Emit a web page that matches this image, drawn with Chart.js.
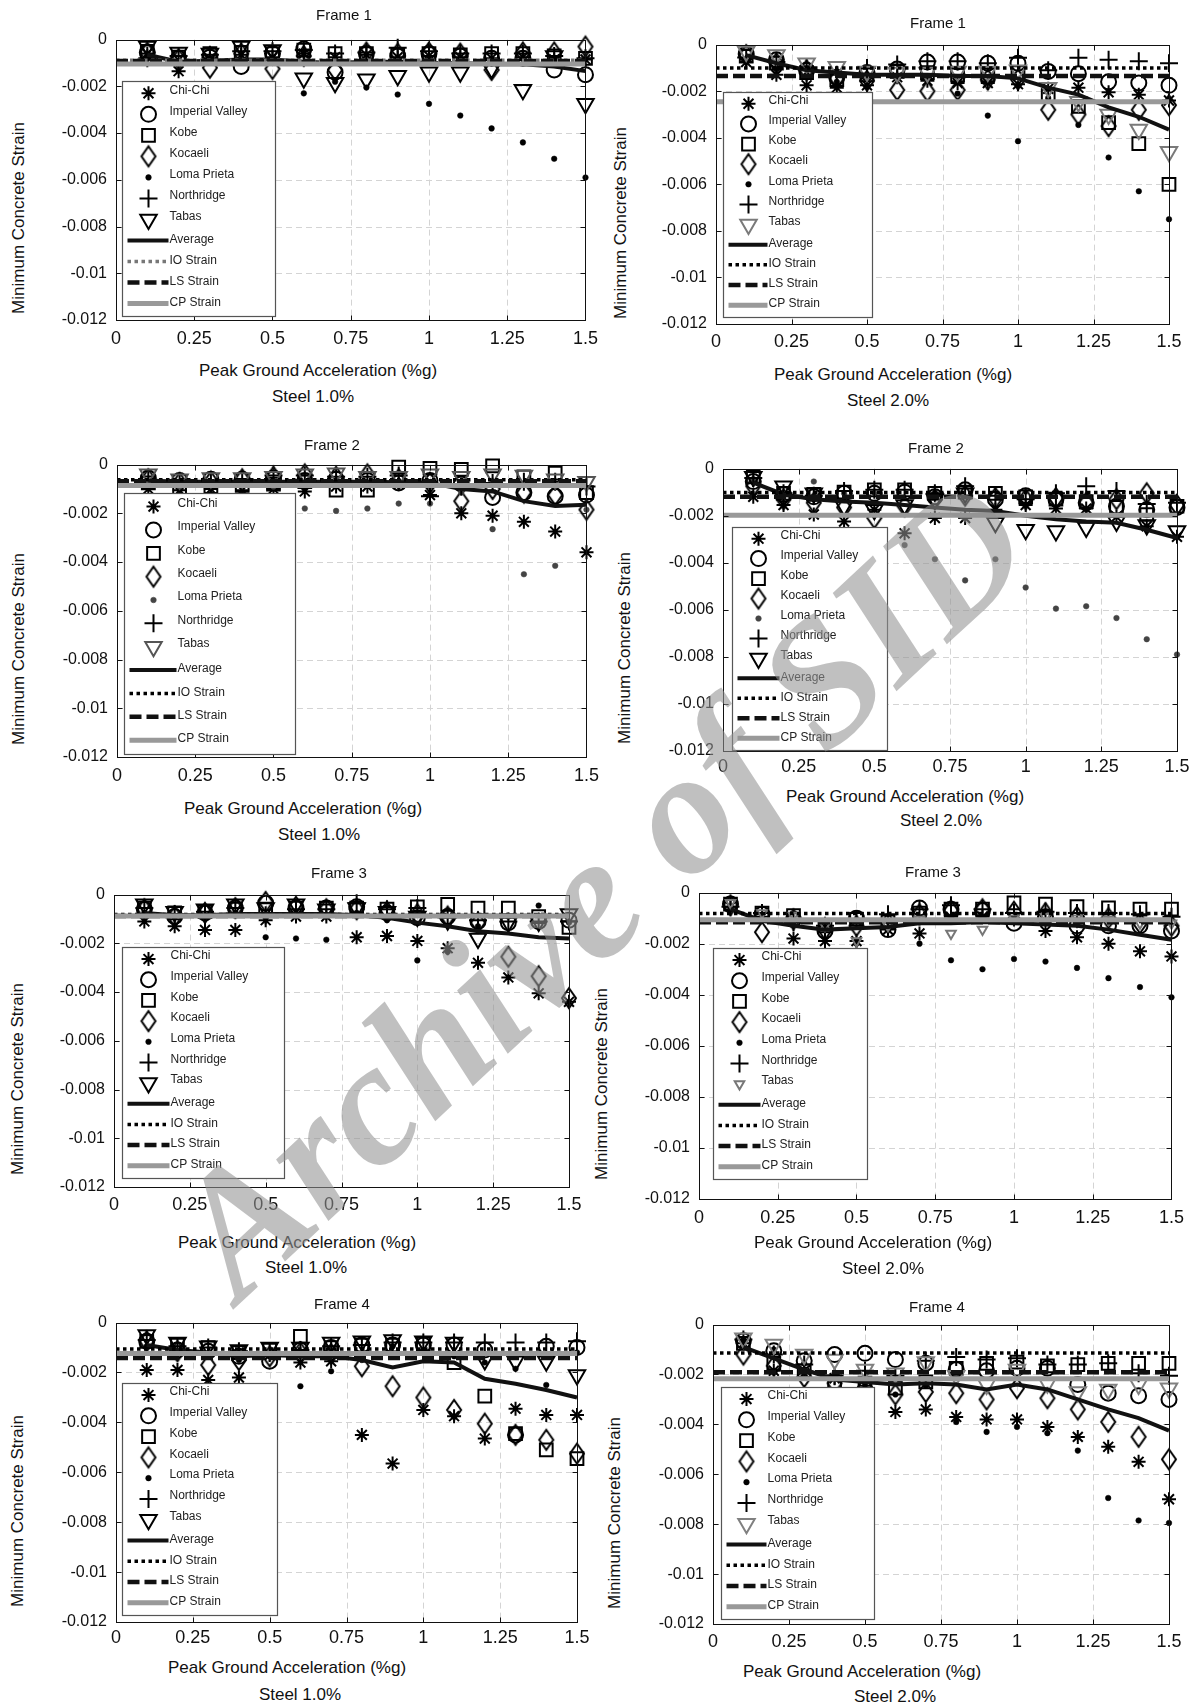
<!DOCTYPE html>
<html>
<head>
<meta charset="utf-8">
<title>Minimum Concrete Strain vs PGA</title>
<script src="https://cdn.jsdelivr.net/npm/chart.js@4.4.1/dist/chart.umd.min.js"></script>
<style>
  html, body { margin: 0; padding: 0; background: #fff; }
  body { width: 1192px; height: 1707px; position: relative; overflow: hidden;
         font-family: 'Liberation Sans', Arial, sans-serif; color: #111; }
  canvas { position: absolute; }
  .txt { position: absolute; white-space: nowrap; line-height: 1; transform: translate(-50%, -50%); }
  .ytitle { position: absolute; white-space: nowrap; line-height: 1; transform: translate(-50%, -50%) rotate(-90deg); }
  #watermark { position: absolute; left: 600px; top: 887px; white-space: nowrap; line-height: 1;
               font-family: 'Liberation Serif', 'DejaVu Serif', serif; font-style: italic; font-weight: bold;
               font-size: 176px; color: rgba(146, 146, 146, 0.58);
               transform: translate(-50%, -50%) rotate(-43deg); z-index: 5; pointer-events: none; }
</style>
</head>
<body>
<script>
// Datos comunes
const pga = [0.1, 0.2, 0.3, 0.4, 0.5, 0.6, 0.7, 0.8, 0.9, 1.0, 1.1, 1.2, 1.3, 1.4, 1.5];
const xTicks = [0, 0.25, 0.5, 0.75, 1, 1.25, 1.5];
const yTicks = [0, -0.002, -0.004, -0.006, -0.008, -0.01, -0.012];
const records = ['Chi-Chi', 'Imperial Valley', 'Kobe', 'Kocaeli', 'Loma Prieta', 'Northridge', 'Tabas'];
const lineNames = ['Average', 'IO Strain', 'LS Strain', 'CP Strain'];

// Frame 1 - Steel 1.0%
const f1s1ChiChi = [-0.6e-3, -1.35e-3, -0.8e-3, -0.65e-3, -0.75e-3, -0.6e-3, -0.75e-3, -0.65e-3, -0.75e-3, -0.7e-3, -0.75e-3, -0.8e-3, -0.75e-3, -0.85e-3, -0.85e-3];
const f1s1Imperial = [-0.55e-3, -0.8e-3, -0.75e-3, -1.15e-3, -0.6e-3, -0.4e-3, -1.4e-3, -0.6e-3, -0.7e-3, -0.6e-3, -0.7e-3, -0.8e-3, -0.8e-3, -1.3e-3, -1.5e-3];
const f1s1Kobe = [-0.5e-3, -0.75e-3, -0.6e-3, -0.55e-3, -0.6e-3, -0.45e-3, -0.6e-3, -0.6e-3, -0.65e-3, -0.6e-3, -0.65e-3, -0.6e-3, -0.6e-3, -0.7e-3, -0.8e-3];
const f1s1Kocaeli = [-0.55e-3, -0.85e-3, -1.2e-3, -0.6e-3, -1.25e-3, -0.7e-3, -1.3e-3, -0.55e-3, -0.6e-3, -0.55e-3, -0.6e-3, -1.3e-3, -0.55e-3, -0.55e-3, -0.3e-3];
const f1s1Loma = [-0.7e-3, -0.9e-3, -0.8e-3, -0.9e-3, -1.0e-3, -2.3e-3, -1.8e-3, -2.05e-3, -2.35e-3, -2.75e-3, -3.25e-3, -3.8e-3, -4.4e-3, -5.1e-3, -5.9e-3];
const f1s1Northridge = [-0.8e-3, -0.7e-3, -0.65e-3, -0.5e-3, -0.5e-3, -0.45e-3, -0.6e-3, -0.55e-3, -0.35e-3, -0.5e-3, -0.6e-3, -0.6e-3, -0.6e-3, -0.7e-3, -0.8e-3];
const f1s1Tabas = [-0.3e-3, -0.55e-3, -0.6e-3, -0.3e-3, -0.45e-3, -1.65e-3, -1.85e-3, -1.7e-3, -1.55e-3, -1.4e-3, -1.4e-3, -1.25e-3, -2.15e-3, -0.7e-3, -2.75e-3];
const f1s1Average = [-0.65e-3, -0.95e-3, -0.9e-3, -0.85e-3, -0.85e-3, -0.95e-3, -1.0e-3, -0.95e-3, -0.95e-3, -1.0e-3, -1.0e-3, -1.05e-3, -1.05e-3, -1.15e-3, -1.35e-3];
const f1s1Limits = [-0.88e-3, -0.92e-3, -1.04e-3];

// Frame 1 - Steel 2.0%
const f1s2ChiChi = [-0.75e-3, -1.3e-3, -1.75e-3, -1.85e-3, -1.75e-3, -1.4e-3, -1.55e-3, -1.65e-3, -1.65e-3, -1.7e-3, -1.9e-3, -1.85e-3, -2.05e-3, -2.15e-3, -2.4e-3];
const f1s2Imperial = [-0.4e-3, -0.65e-3, -1.1e-3, -1.4e-3, -1.2e-3, -1.05e-3, -0.75e-3, -0.75e-3, -0.8e-3, -0.8e-3, -1.15e-3, -1.25e-3, -1.6e-3, -1.65e-3, -1.75e-3];
const f1s2Kobe = [-0.5e-3, -0.8e-3, -1.2e-3, -1.5e-3, -1.3e-3, -1.15e-3, -1.2e-3, -1.3e-3, -1.3e-3, -1.2e-3, -2.2e-3, -2.65e-3, -3.35e-3, -4.25e-3, -6.0e-3];
const f1s2Kocaeli = [-0.45e-3, -0.8e-3, -1.1e-3, -1.45e-3, -1.55e-3, -1.95e-3, -2.0e-3, -1.95e-3, -1.5e-3, -1.5e-3, -2.8e-3, -3.0e-3, -3.5e-3, -2.8e-3, -2.6e-3];
const f1s2Loma = [-0.7e-3, -1.0e-3, -1.3e-3, -1.6e-3, -1.5e-3, -1.4e-3, -1.5e-3, -2.1e-3, -3.05e-3, -4.15e-3, -2.3e-3, -3.45e-3, -4.85e-3, -6.3e-3, -7.5e-3];
const f1s2Northridge = [-0.55e-3, -0.75e-3, -1.0e-3, -1.3e-3, -1.0e-3, -0.85e-3, -0.72e-3, -0.72e-3, -0.8e-3, -0.57e-3, -1.1e-3, -0.57e-3, -0.65e-3, -0.72e-3, -0.8e-3];
const f1s2Tabas = [-0.3e-3, -0.45e-3, -0.8e-3, -0.95e-3, -1.15e-3, -1.2e-3, -1.2e-3, -1.15e-3, -1.15e-3, -1.1e-3, -1.85e-3, -2.45e-3, -3.0e-3, -3.65e-3, -4.6e-3];
const f1s2Average = [-0.45e-3, -0.8e-3, -1.1e-3, -1.2e-3, -1.3e-3, -1.3e-3, -1.3e-3, -1.35e-3, -1.35e-3, -1.45e-3, -1.85e-3, -2.15e-3, -2.7e-3, -3.1e-3, -3.65e-3];
const f1s2Limits = [-1.0e-3, -1.35e-3, -2.45e-3];

// Frame 2 - Steel 1.0%
const f2s1ChiChi = [-1.0e-3, -1.05e-3, -1.0e-3, -1.05e-3, -1.0e-3, -1.1e-3, -0.9e-3, -0.9e-3, -0.8e-3, -1.25e-3, -2.0e-3, -2.1e-3, -2.35e-3, -2.75e-3, -3.6e-3];
const f2s1Imperial = [-0.55e-3, -0.65e-3, -0.6e-3, -0.6e-3, -0.55e-3, -0.65e-3, -0.6e-3, -0.65e-3, -0.75e-3, -0.65e-3, -0.8e-3, -1.35e-3, -1.15e-3, -1.3e-3, -1.25e-3];
const f2s1Kobe = [-0.75e-3, -0.95e-3, -0.9e-3, -0.85e-3, -0.8e-3, -0.7e-3, -1.05e-3, -1.05e-3, -0.1e-3, -0.15e-3, -0.2e-3, -0.05e-3, -0.5e-3, -0.35e-3, -1.15e-3];
const f2s1Kocaeli = [-0.6e-3, -0.75e-3, -0.7e-3, -0.6e-3, -0.5e-3, -0.4e-3, -0.5e-3, -0.4e-3, -0.6e-3, -0.75e-3, -1.5e-3, -1.0e-3, -1.15e-3, -1.25e-3, -1.85e-3];
const f2s1Loma = [-0.75e-3, -0.9e-3, -0.75e-3, -0.75e-3, -0.9e-3, -1.8e-3, -1.9e-3, -1.8e-3, -1.6e-3, -1.6e-3, -1.15e-3, -2.65e-3, -4.5e-3, -4.15e-3, -1.85e-3];
const f2s1Northridge = [-0.65e-3, -0.75e-3, -0.7e-3, -0.65e-3, -0.45e-3, -0.45e-3, -0.5e-3, -0.5e-3, -0.45e-3, -1.3e-3, -0.9e-3, -0.75e-3, -0.7e-3, -0.7e-3, -0.9e-3];
const f2s1Tabas = [-0.4e-3, -0.6e-3, -0.55e-3, -0.55e-3, -0.5e-3, -0.4e-3, -0.35e-3, -0.5e-3, -0.5e-3, -0.4e-3, -0.5e-3, -0.4e-3, -0.45e-3, -0.6e-3, -0.7e-3];
const f2s1Average = [-0.65e-3, -0.7e-3, -0.7e-3, -0.7e-3, -0.7e-3, -0.7e-3, -0.7e-3, -0.7e-3, -0.72e-3, -0.75e-3, -1.0e-3, -1.1e-3, -1.5e-3, -1.7e-3, -1.65e-3];
const f2s1Limits = [-0.62e-3, -0.68e-3, -0.86e-3];

// Frame 2 - Steel 2.0%
const f2s2ChiChi = [-1.2e-3, -1.55e-3, -1.95e-3, -2.25e-3, -1.75e-3, -2.75e-3, -2.1e-3, -2.1e-3, -1.75e-3, -1.55e-3, -1.7e-3, -1.7e-3, -2.05e-3, -2.45e-3, -2.9e-3];
const f2s2Imperial = [-0.55e-3, -1.1e-3, -1.2e-3, -1.05e-3, -1.05e-3, -1.0e-3, -1.2e-3, -0.9e-3, -1.3e-3, -1.15e-3, -1.3e-3, -1.45e-3, -1.6e-3, -1.75e-3, -1.65e-3];
const f2s2Kobe = [-0.35e-3, -1.05e-3, -1.1e-3, -1.0e-3, -0.9e-3, -0.9e-3, -1.05e-3, -1.0e-3, -1.05e-3, -1.2e-3, -1.3e-3, -1.4e-3, -1.65e-3, -1.95e-3, -1.6e-3];
const f2s2Kocaeli = [-0.75e-3, -1.3e-3, -1.45e-3, -1.65e-3, -2.1e-3, -1.6e-3, -1.3e-3, -1.15e-3, -1.25e-3, -1.3e-3, -1.25e-3, -1.45e-3, -1.3e-3, -1.05e-3, -1.55e-3];
const f2s2Loma = [-0.5e-3, -1.2e-3, -0.55e-3, -1.05e-3, -1.05e-3, -3.25e-3, -3.85e-3, -4.75e-3, -3.85e-3, -5.05e-3, -5.95e-3, -5.85e-3, -6.35e-3, -7.25e-3, -7.9e-3];
const f2s2Northridge = [-0.4e-3, -1.05e-3, -1.15e-3, -0.95e-3, -0.9e-3, -0.9e-3, -1.05e-3, -0.75e-3, -1.15e-3, -1.3e-3, -1.05e-3, -0.75e-3, -0.95e-3, -1.5e-3, -1.45e-3];
const f2s2Tabas = [-0.35e-3, -0.75e-3, -1.05e-3, -1.6e-3, -1.75e-3, -1.55e-3, -1.3e-3, -1.05e-3, -2.3e-3, -2.6e-3, -2.65e-3, -2.5e-3, -2.25e-3, -2.4e-3, -2.65e-3];
const f2s2Average = [-0.6e-3, -1.1e-3, -1.3e-3, -1.4e-3, -1.45e-3, -1.55e-3, -1.65e-3, -1.75e-3, -1.8e-3, -2.0e-3, -2.15e-3, -2.25e-3, -2.3e-3, -2.6e-3, -2.95e-3];
const f2s2Limits = [-1.02e-3, -1.2e-3, -1.98e-3];

// Frame 3 - Steel 1.0%
const f3s1ChiChi = [-1.1e-3, -1.3e-3, -1.45e-3, -1.45e-3, -1.05e-3, -0.9e-3, -0.9e-3, -1.75e-3, -1.7e-3, -1.9e-3, -2.2e-3, -2.8e-3, -3.4e-3, -4.05e-3, -4.4e-3];
const f3s1Imperial = [-0.6e-3, -0.9e-3, -0.75e-3, -0.55e-3, -0.35e-3, -0.55e-3, -0.55e-3, -0.5e-3, -0.75e-3, -0.95e-3, -0.9e-3, -1.1e-3, -1.15e-3, -1.1e-3, -1.05e-3];
const f3s1Kobe = [-0.55e-3, -0.75e-3, -0.7e-3, -0.6e-3, -0.6e-3, -0.55e-3, -0.55e-3, -0.55e-3, -0.6e-3, -0.5e-3, -0.4e-3, -0.55e-3, -0.55e-3, -0.9e-3, -1.35e-3];
const f3s1Kocaeli = [-0.6e-3, -0.9e-3, -0.75e-3, -0.55e-3, -0.3e-3, -0.5e-3, -0.6e-3, -0.6e-3, -0.7e-3, -0.8e-3, -0.9e-3, -1.15e-3, -2.55e-3, -3.35e-3, -4.25e-3];
const f3s1Loma = [-0.75e-3, -0.9e-3, -0.9e-3, -0.75e-3, -1.75e-3, -1.8e-3, -1.85e-3, -0.75e-3, -1.05e-3, -2.7e-3, -2.35e-3, -1.3e-3, -0.9e-3, -0.45e-3, -1.15e-3];
const f3s1Northridge = [-0.55e-3, -0.8e-3, -0.7e-3, -0.55e-3, -0.85e-3, -0.6e-3, -0.6e-3, -0.35e-3, -0.6e-3, -0.55e-3, -0.95e-3, -1.05e-3, -1.1e-3, -1.1e-3, -1.1e-3];
const f3s1Tabas = [-0.4e-3, -0.7e-3, -0.6e-3, -0.4e-3, -0.55e-3, -0.4e-3, -0.6e-3, -0.55e-3, -0.7e-3, -0.9e-3, -1.05e-3, -1.8e-3, -1.15e-3, -1.1e-3, -0.8e-3];
const f3s1Average = [-0.75e-3, -0.85e-3, -0.85e-3, -0.8e-3, -0.8e-3, -0.8e-3, -0.8e-3, -0.85e-3, -0.95e-3, -1.15e-3, -1.3e-3, -1.5e-3, -1.6e-3, -1.75e-3, -1.8e-3];
const f3s1Limits = [-0.82e-3, -0.88e-3, -0.88e-3];

// Frame 3 - Steel 2.0%
const f3s2ChiChi = [-0.55e-3, -0.95e-3, -1.8e-3, -1.9e-3, -1.9e-3, -1.45e-3, -1.6e-3, -0.95e-3, -0.95e-3, -1.05e-3, -1.5e-3, -1.75e-3, -2.0e-3, -2.3e-3, -2.5e-3];
const f3s2Imperial = [-0.45e-3, -0.85e-3, -1.05e-3, -1.5e-3, -1.0e-3, -1.45e-3, -0.6e-3, -0.65e-3, -0.7e-3, -1.2e-3, -0.95e-3, -1.3e-3, -1.3e-3, -1.3e-3, -1.5e-3];
const f3s2Kobe = [-0.45e-3, -0.8e-3, -0.9e-3, -1.3e-3, -1.05e-3, -1.15e-3, -0.8e-3, -0.65e-3, -0.65e-3, -0.4e-3, -0.45e-3, -0.55e-3, -0.6e-3, -0.65e-3, -0.65e-3];
const f3s2Kocaeli = [-0.5e-3, -1.55e-3, -1.05e-3, -1.45e-3, -1.3e-3, -1.2e-3, -0.85e-3, -0.7e-3, -0.65e-3, -0.75e-3, -0.8e-3, -0.95e-3, -1.0e-3, -1.2e-3, -1.3e-3];
const f3s2Loma = [-0.55e-3, -0.95e-3, -1.2e-3, -1.4e-3, -2.0e-3, -1.4e-3, -2.0e-3, -2.65e-3, -3.0e-3, -2.6e-3, -2.7e-3, -2.95e-3, -3.35e-3, -3.7e-3, -4.1e-3];
const f3s2Northridge = [-0.55e-3, -0.8e-3, -1.15e-3, -1.3e-3, -1.05e-3, -0.85e-3, -0.65e-3, -0.5e-3, -0.65e-3, -0.8e-3, -0.75e-3, -0.8e-3, -0.8e-3, -0.85e-3, -0.95e-3];
const f3s2Tabas = [-0.4e-3, -0.8e-3, -0.9e-3, -1.3e-3, -1.9e-3, -1.3e-3, -1.05e-3, -1.6e-3, -1.45e-3, -1.0e-3, -0.95e-3, -1.0e-3, -1.05e-3, -1.2e-3, -1.2e-3];
const f3s2Average = [-0.65e-3, -1.1e-3, -1.3e-3, -1.45e-3, -1.4e-3, -1.35e-3, -1.2e-3, -1.2e-3, -1.15e-3, -1.2e-3, -1.25e-3, -1.3e-3, -1.45e-3, -1.65e-3, -1.85e-3];
const f3s2Limits = [-0.82e-3, -1.16e-3, -1.06e-3];

// Frame 4 - Steel 1.0%
const f4s1ChiChi = [-1.9e-3, -1.9e-3, -2.3e-3, -2.2e-3, -1.3e-3, -1.6e-3, -1.55e-3, -4.5e-3, -5.65e-3, -3.5e-3, -3.75e-3, -4.65e-3, -3.45e-3, -3.7e-3, -3.7e-3];
const f4s1Imperial = [-0.75e-3, -1.1e-3, -1.15e-3, -1.35e-3, -1.55e-3, -1.1e-3, -1.0e-3, -0.9e-3, -0.9e-3, -0.9e-3, -0.9e-3, -1.1e-3, -4.5e-3, -0.95e-3, -1.0e-3];
const f4s1Kobe = [-0.75e-3, -0.9e-3, -1.0e-3, -1.2e-3, -1.1e-3, -0.55e-3, -1.0e-3, -0.9e-3, -0.9e-3, -0.85e-3, -1.6e-3, -2.95e-3, -4.45e-3, -5.1e-3, -5.45e-3];
const f4s1Kocaeli = [-0.75e-3, -1.15e-3, -1.7e-3, -1.5e-3, -1.35e-3, -1.2e-3, -1.25e-3, -1.75e-3, -2.55e-3, -3.0e-3, -3.5e-3, -4.05e-3, -4.5e-3, -4.7e-3, -5.25e-3];
const f4s1Loma = [-0.95e-3, -1.2e-3, -1.35e-3, -1.5e-3, -1.35e-3, -2.55e-3, -1.95e-3, -1.5e-3, -0.95e-3, -1.1e-3, -1.35e-3, -1.6e-3, -1.85e-3, -2.5e-3, -1.2e-3];
const f4s1Northridge = [-0.7e-3, -0.95e-3, -1.0e-3, -1.15e-3, -1.2e-3, -1.1e-3, -0.95e-3, -0.9e-3, -0.8e-3, -0.8e-3, -0.8e-3, -0.8e-3, -0.8e-3, -0.8e-3, -0.75e-3];
const f4s1Tabas = [-0.5e-3, -0.8e-3, -0.95e-3, -1.1e-3, -1.0e-3, -1.0e-3, -0.8e-3, -0.75e-3, -0.7e-3, -0.75e-3, -0.8e-3, -1.5e-3, -1.55e-3, -1.55e-3, -2.1e-3];
const f4s1Average = [-0.9e-3, -1.1e-3, -1.2e-3, -1.35e-3, -1.3e-3, -1.35e-3, -1.35e-3, -1.5e-3, -1.8e-3, -1.55e-3, -1.6e-3, -2.25e-3, -2.45e-3, -2.7e-3, -3.0e-3];
const f4s1Limits = [-1.06e-3, -1.42e-3, -1.24e-3];

// Frame 4 - Steel 2.0%
const f4s2ChiChi = [-0.75e-3, -1.85e-3, -1.95e-3, -2.15e-3, -2.45e-3, -3.5e-3, -3.4e-3, -3.7e-3, -3.8e-3, -3.8e-3, -4.1e-3, -4.5e-3, -4.9e-3, -5.5e-3, -7.0e-3];
const f4s2Imperial = [-0.65e-3, -1.05e-3, -1.45e-3, -1.2e-3, -1.15e-3, -1.4e-3, -1.55e-3, -1.8e-3, -1.85e-3, -1.75e-3, -1.75e-3, -2.4e-3, -2.75e-3, -2.85e-3, -3.0e-3];
const f4s2Kobe = [-0.75e-3, -1.55e-3, -1.85e-3, -2.3e-3, -2.35e-3, -2.55e-3, -2.3e-3, -1.75e-3, -1.55e-3, -1.5e-3, -1.65e-3, -1.6e-3, -1.55e-3, -1.55e-3, -1.55e-3];
const f4s2Kocaeli = [-1.2e-3, -1.65e-3, -2.1e-3, -2.35e-3, -2.5e-3, -2.8e-3, -2.7e-3, -2.75e-3, -3.0e-3, -2.55e-3, -2.95e-3, -3.4e-3, -3.9e-3, -4.5e-3, -5.4e-3];
const f4s2Loma = [-0.6e-3, -1.0e-3, -1.55e-3, -1.95e-3, -2.3e-3, -2.8e-3, -2.45e-3, -3.9e-3, -4.3e-3, -4.1e-3, -4.35e-3, -5.05e-3, -6.95e-3, -7.85e-3, -7.95e-3];
const f4s2Northridge = [-0.6e-3, -1.2e-3, -1.6e-3, -2.05e-3, -1.85e-3, -2.05e-3, -1.45e-3, -1.3e-3, -1.4e-3, -1.35e-3, -1.6e-3, -1.6e-3, -1.55e-3, -1.95e-3, -2.05e-3];
const f4s2Tabas = [-0.55e-3, -0.8e-3, -1.2e-3, -1.4e-3, -1.8e-3, -1.95e-3, -1.5e-3, -2.05e-3, -2.4e-3, -1.8e-3, -2.35e-3, -2.7e-3, -2.6e-3, -2.4e-3, -2.55e-3];
const f4s2Average = [-0.9e-3, -1.35e-3, -1.8e-3, -2.2e-3, -2.3e-3, -2.4e-3, -2.35e-3, -2.4e-3, -2.6e-3, -2.4e-3, -2.6e-3, -3.0e-3, -3.4e-3, -3.75e-3, -4.25e-3];
const f4s2Limits = [-1.14e-3, -1.91e-3, -2.17e-3];

// Disposición de los paneles (posiciones en px)
const FONT = "'Liberation Sans', Arial, sans-serif";
const AXW = 80, PADT = 14, PADR = 20, AXH = 34;

const panels = [
  { id: 'f1s1', title: 'Frame 1', steel: 'Steel 1.0%', plot: [116, 40, 585, 320], titleAt: [344, 14], xTitleAt: [318, 370], steelAt: [313, 396], yTitleX: 18, xPad: 8,
    legend: [6, 41, 153, 235], mk: 26, tx: 47, tabasColor: '#000', tabasR: 9.5, lomaColor: '#000', ioColor: '#777',
    series: [f1s1ChiChi, f1s1Imperial, f1s1Kobe, f1s1Kocaeli, f1s1Loma, f1s1Northridge, f1s1Tabas], average: f1s1Average, limits: f1s1Limits },
  { id: 'f1s2', title: 'Frame 1', steel: 'Steel 2.0%', plot: [716, 45, 1169, 324], titleAt: [938, 22], xTitleAt: [893, 374], steelAt: [888, 400], yTitleX: 620, xPad: 7,
    legend: [7, 47, 149, 225], mk: 25, tx: 45, tabasColor: '#7a7a7a', tabasR: 9.5, lomaColor: '#000', ioColor: '#000',
    series: [f1s2ChiChi, f1s2Imperial, f1s2Kobe, f1s2Kocaeli, f1s2Loma, f1s2Northridge, f1s2Tabas], average: f1s2Average, limits: f1s2Limits },
  { id: 'f2s1', title: 'Frame 2', steel: 'Steel 1.0%', plot: [117, 465, 586, 757], titleAt: [332, 444], xTitleAt: [303, 808], steelAt: [319, 834], yTitleX: 18, xPad: 8,
    legend: [7, 28, 171, 261], mk: 29, tx: 53, tabasColor: '#555', tabasR: 9.5, lomaColor: '#444', ioColor: '#000',
    series: [f2s1ChiChi, f2s1Imperial, f2s1Kobe, f2s1Kocaeli, f2s1Loma, f2s1Northridge, f2s1Tabas], average: f2s1Average, limits: f2s1Limits },
  { id: 'f2s2', title: 'Frame 2', steel: 'Steel 2.0%', plot: [723, 469, 1177, 751], titleAt: [936, 447], xTitleAt: [905, 796], steelAt: [941, 820], yTitleX: 624, xPad: 5,
    legend: [9, 58, 155, 223], mk: 26, tx: 48, tabasColor: '#000', tabasR: 9.5, lomaColor: '#444', ioColor: '#000',
    series: [f2s2ChiChi, f2s2Imperial, f2s2Kobe, f2s2Kocaeli, f2s2Loma, f2s2Northridge, f2s2Tabas], average: f2s2Average, limits: f2s2Limits },
  { id: 'f3s1', title: 'Frame 3', steel: 'Steel 1.0%', plot: [114, 895, 569, 1187], titleAt: [339, 872], xTitleAt: [297, 1242], steelAt: [306, 1267], yTitleX: 17, xPad: 7,
    legend: [8, 52, 162, 231], mk: 26, tx: 48, tabasColor: '#000', tabasR: 9.5, lomaColor: '#000', ioColor: '#000',
    series: [f3s1ChiChi, f3s1Imperial, f3s1Kobe, f3s1Kocaeli, f3s1Loma, f3s1Northridge, f3s1Tabas], average: f3s1Average, limits: f3s1Limits },
  { id: 'f3s2', title: 'Frame 3', steel: 'Steel 2.0%', plot: [699, 893, 1171, 1199], titleAt: [933, 871], xTitleAt: [873, 1242], steelAt: [883, 1268], yTitleX: 601, xPad: 8,
    legend: [14, 55, 154, 231], mk: 26, tx: 48, tabasColor: '#777', tabasR: 5.5, lomaColor: '#000', ioColor: '#000',
    series: [f3s2ChiChi, f3s2Imperial, f3s2Kobe, f3s2Kocaeli, f3s2Loma, f3s2Northridge, f3s2Tabas], average: f3s2Average, limits: f3s2Limits },
  { id: 'f4s1', title: 'Frame 4', steel: 'Steel 1.0%', plot: [116, 1323, 577, 1622], titleAt: [342, 1303], xTitleAt: [287, 1667], steelAt: [300, 1694], yTitleX: 17, xPad: 5,
    legend: [6, 60, 155, 232], mk: 26, tx: 47, tabasColor: '#000', tabasR: 9.5, lomaColor: '#000', ioColor: '#000',
    series: [f4s1ChiChi, f4s1Imperial, f4s1Kobe, f4s1Kocaeli, f4s1Loma, f4s1Northridge, f4s1Tabas], average: f4s1Average, limits: f4s1Limits },
  { id: 'f4s2', title: 'Frame 4', steel: 'Steel 2.0%', plot: [713, 1325, 1169, 1624], titleAt: [937, 1306], xTitleAt: [862, 1671], steelAt: [895, 1696], yTitleX: 614, xPad: 7,
    legend: [8, 62, 153, 232], mk: 25, tx: 46, tabasColor: '#808080', tabasR: 9.5, lomaColor: '#000', ioColor: '#000',
    series: [f4s2ChiChi, f4s2Imperial, f4s2Kobe, f4s2Kocaeli, f4s2Loma, f4s2Northridge, f4s2Tabas], average: f4s2Average, limits: f4s2Limits }
];

// Rombo alto estilo MATLAB
function diamondImage(w, h, color, lw) {
  const c = document.createElement('canvas');
  c.width = Math.ceil(w + lw * 2 + 2);
  c.height = Math.ceil(h + lw * 2 + 2);
  const g = c.getContext('2d');
  const cx = c.width / 2, cy = c.height / 2;
  g.strokeStyle = color;
  g.lineWidth = lw;
  g.beginPath();
  g.moveTo(cx, cy - h / 2);
  g.lineTo(cx + w / 2, cy);
  g.lineTo(cx, cy + h / 2);
  g.lineTo(cx - w / 2, cy);
  g.closePath();
  g.stroke();
  return c;
}
const diamondMark = diamondImage(14, 20, '#000', 2);

function markerStyles(p) {
  return [
    { pointStyle: 'star', radius: 7, color: '#000', fill: false },
    { pointStyle: 'circle', radius: 7.5, color: '#000', fill: false },
    { pointStyle: 'rect', radius: 9, color: '#000', fill: false },
    { pointStyle: diamondMark, radius: 8, color: '#000', fill: false },
    { pointStyle: 'circle', radius: 2.8, color: p.lomaColor, fill: true },
    { pointStyle: 'cross', radius: 9, color: '#000', fill: false },
    { pointStyle: 'triangle', radius: p.tabasR, rotation: 180, color: p.tabasColor, fill: false }
  ];
}

function lineStyles(p) {
  return [
    { color: '#111', width: 4, dash: [] },
    { color: p.ioColor, width: 3.5, dash: [3.5, 3.5] },
    { color: '#111', width: 4.5, dash: [12, 5] },
    { color: '#999', width: 5, dash: [] }
  ];
}

function fmt(v) {
  return String(+Number(v).toFixed(3));
}

// Rejilla, marco y leyenda estilo MATLAB
function framePlugin(p, ms, ls) {
  return {
    id: 'frame_' + p.id,
    beforeDatasetsDraw(chart) {
      const { ctx, chartArea: a, scales: { x, y } } = chart;
      ctx.save();
      ctx.strokeStyle = '#d4d4d4';
      ctx.lineWidth = 1;
      ctx.setLineDash([6, 4]);
      xTicks.forEach(v => {
        const px = Math.round(x.getPixelForValue(v)) + 0.5;
        if (px > a.left + 2 && px < a.right - 2) {
          ctx.beginPath(); ctx.moveTo(px, a.top); ctx.lineTo(px, a.bottom); ctx.stroke();
        }
      });
      yTicks.forEach(v => {
        const py = Math.round(y.getPixelForValue(v)) + 0.5;
        if (py > a.top + 2 && py < a.bottom - 2) {
          ctx.beginPath(); ctx.moveTo(a.left, py); ctx.lineTo(a.right, py); ctx.stroke();
        }
      });
      ctx.restore();
    },
    afterDatasetsDraw(chart) {
      const { ctx, chartArea: a, scales: { x, y } } = chart;
      ctx.save();
      ctx.setLineDash([]);
      ctx.strokeStyle = '#111';
      ctx.lineWidth = 1;
      const l = Math.round(a.left) + 0.5, t = Math.round(a.top) + 0.5;
      const r = Math.round(a.right) + 0.5, b = Math.round(a.bottom) + 0.5;
      ctx.strokeRect(l, t, r - l, b - t);
      ctx.beginPath();
      xTicks.forEach(v => {
        const px = Math.round(x.getPixelForValue(v)) + 0.5;
        ctx.moveTo(px, b); ctx.lineTo(px, b - 5);
        ctx.moveTo(px, t); ctx.lineTo(px, t + 5);
      });
      yTicks.forEach(v => {
        const py = Math.round(y.getPixelForValue(v)) + 0.5;
        ctx.moveTo(l, py); ctx.lineTo(l + 5, py);
        ctx.moveTo(r, py); ctx.lineTo(r - 5, py);
      });
      ctx.stroke();

      // Leyenda
      const [bx, by, bw, bh] = p.legend;
      const x0 = Math.round(a.left + bx) + 0.5, y0 = Math.round(a.top + by) + 0.5;
      ctx.fillStyle = '#fff';
      ctx.fillRect(x0, y0, bw, bh);
      ctx.strokeStyle = '#555';
      ctx.lineWidth = 1.2;
      ctx.strokeRect(x0, y0, bw, bh);
      ctx.font = '12px ' + FONT;
      ctx.textBaseline = 'middle';
      ctx.textAlign = 'left';
      const labels = records.concat(lineNames);
      labels.forEach((name, i) => {
        const ry = y0 + bh * (0.05 + 0.0895 * i);
        if (i < records.length) {
          const m = ms[i];
          ctx.save();
          ctx.setLineDash([]);
          ctx.strokeStyle = m.color;
          ctx.fillStyle = m.fill ? m.color : 'rgba(0,0,0,0)';
          ctx.lineWidth = m.fill ? 0.5 : 2;
          Chart.helpers.drawPoint(ctx, { pointStyle: m.pointStyle, radius: m.radius, rotation: m.rotation || 0, borderWidth: ctx.lineWidth }, x0 + p.mk, ry);
          ctx.restore();
          ctx.fillStyle = '#222';
          ctx.fillText(name, x0 + p.tx, ry - 3);
        } else {
          const s = ls[i - records.length];
          ctx.save();
          ctx.strokeStyle = s.color;
          ctx.lineWidth = s.width;
          ctx.setLineDash(s.dash);
          ctx.lineCap = 'butt';
          ctx.beginPath();
          ctx.moveTo(x0 + 5, ry);
          ctx.lineTo(x0 + p.tx - 1, ry);
          ctx.stroke();
          ctx.restore();
          ctx.fillStyle = '#222';
          ctx.fillText(name, x0 + p.tx, ry - 1);
        }
      });
      ctx.restore();
    }
  };
}

function addText(txt, x, y, size, cls) {
  const d = document.createElement('div');
  d.className = cls || 'txt';
  d.textContent = txt;
  d.style.left = x + 'px';
  d.style.top = y + 'px';
  d.style.fontSize = size + 'px';
  document.body.appendChild(d);
}

function chartConfig(p) {
  const ms = markerStyles(p);
  const ls = lineStyles(p);
  const datasets = [];

  records.forEach((name, i) => {
    datasets.push({
      label: name,
      data: pga.map((x, j) => ({ x: x, y: p.series[i][j] })),
      showLine: false,
      pointStyle: ms[i].pointStyle,
      pointRadius: ms[i].radius,
      pointRotation: ms[i].rotation || 0,
      pointBorderColor: ms[i].color,
      pointBackgroundColor: ms[i].fill ? ms[i].color : 'rgba(0,0,0,0)',
      pointBorderWidth: ms[i].fill ? 0.5 : 2,
      order: 10 - i,
      clip: false
    });
  });

  datasets.push({
    label: lineNames[0],
    data: pga.map((x, j) => ({ x: x, y: p.average[j] })),
    showLine: true,
    borderColor: ls[0].color,
    borderWidth: ls[0].width,
    pointRadius: 0,
    tension: 0,
    order: 3,
    clip: false
  });

  p.limits.forEach((v, k) => {
    const s = ls[k + 1];
    datasets.push({
      label: lineNames[k + 1],
      data: [{ x: xTicks[0], y: v }, { x: xTicks[xTicks.length - 1], y: v }],
      showLine: true,
      borderColor: s.color,
      borderWidth: s.width,
      borderDash: s.dash,
      borderCapStyle: 'butt',
      pointRadius: 0,
      order: 2 - k,
      clip: false
    });
  });

  return {
    type: 'scatter',
    data: { datasets: datasets },
    options: {
      responsive: false,
      maintainAspectRatio: false,
      animation: false,
      events: [],
      devicePixelRatio: 1,
      layout: { padding: { left: 0, top: PADT, right: PADR, bottom: 0 } },
      plugins: { legend: { display: false }, tooltip: { enabled: false }, title: { display: false } },
      scales: {
        x: {
          type: 'linear', min: 0, max: 1.5,
          grid: { display: false, drawTicks: false }, border: { display: false },
          afterBuildTicks: s => { s.ticks = xTicks.map(v => ({ value: v })); },
          afterFit: s => { s.height = AXH; },
          ticks: { color: '#111', font: { family: FONT, size: 18 }, padding: p.xPad, maxRotation: 0, autoSkip: false, callback: v => fmt(v) }
        },
        y: {
          type: 'linear', min: -0.012, max: 0,
          grid: { display: false, drawTicks: false }, border: { display: false },
          afterBuildTicks: s => { s.ticks = yTicks.map(v => ({ value: v })); },
          afterFit: s => { s.width = AXW; },
          ticks: { color: '#111', font: { family: FONT, size: 16 }, padding: 9, autoSkip: false, callback: v => fmt(v) }
        }
      }
    },
    plugins: [framePlugin(p, ms, ls)]
  };
}

function drawChart(cv, p, w, h) {
  cv.width = w; cv.height = h;
  cv.style.width = w + 'px';
  cv.style.height = h + 'px';
  return new Chart(cv, chartConfig(p));
}

function makePanel(p) {
  const [L, T, R, B] = p.plot;
  let w = R - L + AXW + PADR, h = B - T + PADT + AXH;
  const cv = document.createElement('canvas');
  document.body.appendChild(cv);
  let chart = drawChart(cv, p, w, h);

  // Ajustar el tamaño para que el área del gráfico coincida con la referencia
  const a = chart.chartArea;
  const dw = Math.round((R - L) - (a.right - a.left));
  const dh = Math.round((B - T) - (a.bottom - a.top));
  if (dw !== 0 || dh !== 0) {
    chart.destroy();
    w += dw; h += dh;
    chart = drawChart(cv, p, w, h);
  }
  const a2 = chart.chartArea;
  cv.style.left = (L - a2.left) + 'px';
  cv.style.top = (T - a2.top) + 'px';

  addText(p.title, p.titleAt[0], p.titleAt[1], 15);
  addText('Peak Ground Acceleration (%g)', p.xTitleAt[0], p.xTitleAt[1], 17);
  addText(p.steel, p.steelAt[0], p.steelAt[1], 17);
  addText('Minimum Concrete Strain', p.yTitleX, (T + B) / 2 + 38, 17, 'ytitle');
}

panels.forEach(makePanel);

// Marca de agua
const wm = document.createElement('div');
wm.id = 'watermark';
wm.textContent = 'Archive of SID';
document.body.appendChild(wm);
</script>
</body>
</html>
